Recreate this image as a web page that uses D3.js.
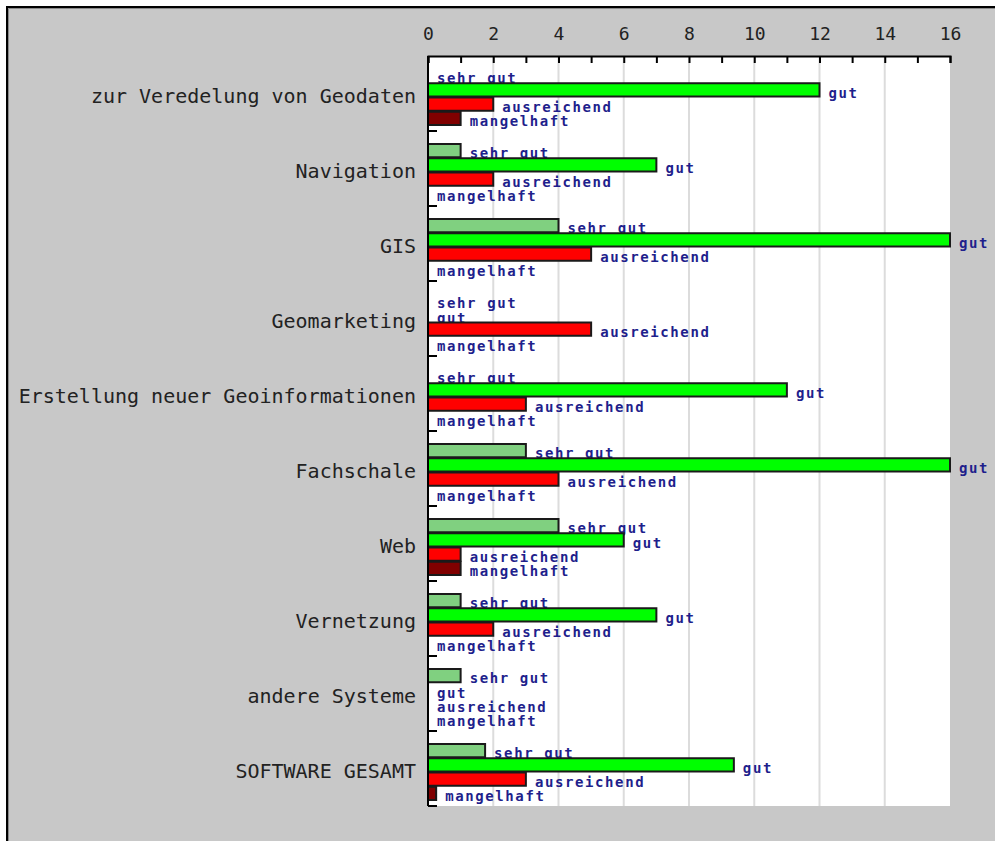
<!DOCTYPE html>
<html>
<head>
<meta charset="utf-8">
<script src="https://cdn.jsdelivr.net/npm/d3@7"></script>
<style>
  html, body { margin: 0; padding: 0; background: #ffffff; }
  svg { display: block; }
</style>
</head>
<body>
<svg id="chart" width="995" height="841"></svg>
<script>
// ---- data ----
const categories = [
  "zur Veredelung von Geodaten",
  "Navigation",
  "GIS",
  "Geomarketing",
  "Erstellung neuer Geoinformationen",
  "Fachschale",
  "Web",
  "Vernetzung",
  "andere Systeme",
  "SOFTWARE GESAMT"
];
const seriesNames = ["sehr gut", "gut", "ausreichend", "mangelhaft"];
const sehrGut     = [0, 1, 4, 0, 0, 3, 4, 1, 1, 1.75];
const gut         = [12, 7, 16, 0, 11, 16, 6, 7, 0, 9.375];
const ausreichend = [2, 2, 5, 5, 3, 4, 1, 2, 0, 3];
const mangelhaft  = [1, 0, 0, 0, 0, 0, 1, 0, 0, 0.25];
const tickValues  = [0,1,2,3,4,5,6,7,8,9,10,11,12,13,14,15,16];
const tickLabels  = ["0","","2","","4","","6","","8","","10","","12","","14","","16"];
const seriesColors = ["#80d080", "#00ff00", "#ff0000", "#800000"];

const seriesValues = [sehrGut, gut, ausreichend, mangelhaft];

// ---- layout ----
const svg = d3.select("#chart");
const plotLeft = 428, plotRight = 950, plotTop = 56, plotBottom = 806;

// frame
svg.append("rect").attr("x", 0).attr("y", 0).attr("width", 995).attr("height", 841).attr("fill", "#ffffff");
svg.append("rect").attr("x", 6).attr("y", 6).attr("width", 995).attr("height", 841).attr("fill", "#c8c8c8");
svg.append("path").attr("d", "M7,841V7H995").attr("fill", "none").attr("stroke", "#000").attr("stroke-width", 2);
svg.append("path").attr("d", "M8.5,841V8.5H995").attr("fill", "none").attr("stroke", "#8a8a8a").attr("stroke-width", 1);

const x = d3.scaleLinear().domain([0, 16]).range([plotLeft, plotRight]);
const y0 = d3.scaleBand().domain(categories).range([plotTop, plotBottom]).padding(0);
const y1 = d3.scaleBand().domain(seriesNames).range([12.5, 69.5]).padding(0);

// plot background
svg.append("rect")
  .attr("x", x(0)).attr("y", plotTop)
  .attr("width", x(16) - x(0)).attr("height", plotBottom - plotTop)
  .attr("fill", "#ffffff");

// grid lines
svg.append("g").selectAll("line")
  .data(tickValues.filter(v => v % 2 === 0 && v > 0 && v < 16))
  .join("line")
  .attr("x1", d => x(d)).attr("x2", d => x(d))
  .attr("y1", plotTop).attr("y2", plotBottom)
  .attr("stroke", "#dcdcdc").attr("stroke-width", 2);

// bars and labels
const groups = svg.append("g").selectAll("g")
  .data(categories)
  .join("g")
  .attr("transform", c => `translate(0,${y0(c)})`);

groups.each(function(c, gi) {
  const g = d3.select(this);
  seriesNames.forEach((s, si) => {
    const v = seriesValues[si][gi];
    const top = y1(s);
    if (v > 0) {
      g.append("rect")
        .attr("x", x(0))
        .attr("y", top + 0.5)
        .attr("width", x(v) - x(0))
        .attr("height", y1.bandwidth() - 1)
        .attr("fill", seriesColors[si])
        .attr("stroke", "#1a1a1a")
        .attr("stroke-width", 2);
    }
    g.append("text")
      .attr("x", x(v) + 9)
      .attr("y", top + y1.bandwidth() + 0.5)
      .attr("font-family", "'DejaVu Sans Mono', monospace")
      .attr("font-weight", "bold")
      .attr("font-size", 14)
      .attr("letter-spacing", 1.6)
      .attr("fill", "#1f1f8c")
      .text(s);
  });
});

// category labels
svg.append("g").selectAll("text")
  .data(categories)
  .join("text")
  .attr("x", 416)
  .attr("y", c => y0(c) + y0.bandwidth() / 2 + 9.5)
  .attr("text-anchor", "end")
  .attr("font-family", "'DejaVu Sans Mono', monospace")
  .attr("font-size", 20)
  .attr("fill", "#222")
  .text(c => c);

// left axis line and group ticks
svg.append("line")
  .attr("x1", x(0)).attr("x2", x(0))
  .attr("y1", plotTop).attr("y2", plotBottom)
  .attr("stroke", "#000").attr("stroke-width", 2);
svg.append("g").selectAll("line")
  .data(categories)
  .join("line")
  .attr("x1", x(0)).attr("x2", x(0) + 9)
  .attr("y1", c => y0(c) + y0.bandwidth())
  .attr("y2", c => y0(c) + y0.bandwidth())
  .attr("stroke", "#000").attr("stroke-width", 2);

// top axis
const axis = d3.axisTop(x)
  .tickValues(tickValues)
  .tickFormat((d, i) => tickLabels[i])
  .tickSizeInner(-7)
  .tickSizeOuter(-7)
  .tickPadding(16);
const ax = svg.append("g")
  .attr("transform", `translate(0,${plotTop})`)
  .call(axis);
ax.select(".domain").attr("stroke", "#000").attr("stroke-width", 2);
ax.selectAll(".tick line").attr("stroke", "#000").attr("stroke-width", 2);
ax.selectAll(".tick text")
  .attr("font-family", "'DejaVu Sans Mono', monospace")
  .attr("font-size", 18)
  .attr("fill", "#222");
</script>
</body>
</html>
